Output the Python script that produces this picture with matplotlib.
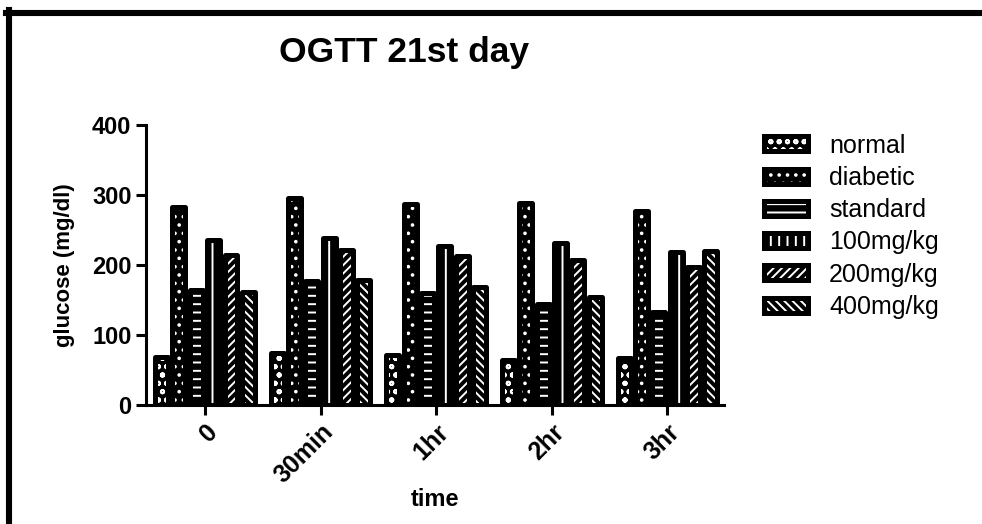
"""OGTT 21st day grouped bar chart."""

import matplotlib

matplotlib.use("Agg")
import matplotlib.pyplot as plt
import numpy as np
from matplotlib.legend_handler import HandlerTuple
from matplotlib.lines import Line2D

time_points = ["0", "30min", "1hr", "2hr", "3hr"]
groups = ["normal", "diabetic", "standard", "100mg/kg", "200mg/kg", "400mg/kg"]

normal = [68, 75, 72, 65, 67]
diabetic = [283, 296, 287, 289, 277]
standard = [164, 178, 160, 144, 133]
dose_100 = [236, 239, 228, 231, 219]
dose_200 = [215, 221, 213, 207, 198]
dose_400 = [162, 179, 169, 154, 220]

series = [normal, diabetic, standard, dose_100, dose_200, dose_400]
hatches = ["oo", "..", "--", "||", "////", "\\\\\\\\"]

plt.rcParams["font.family"] = ["Liberation Sans", "DejaVu Sans"]
plt.rcParams["hatch.linewidth"] = 1.4

figure = plt.figure(figsize=(9.82, 5.24), dpi=100)
axis = figure.add_axes([0.1487, 0.227, 0.5886, 0.534])

x = np.arange(len(time_points))
step = 0.15
width = 0.112
handles = []
for index, (values, hatch) in enumerate(zip(series, hatches)):
    offset = (index - 2.5) * step
    fill = axis.bar(
        x + offset, values, width, color="black", edgecolor="white",
        hatch=hatch, linewidth=0,
    )
    border = axis.bar(
        x + offset, values, width, facecolor="none", edgecolor="black",
        linewidth=3.6, joinstyle="round",
    )
    handles.append((fill, border))

axis.set_xlim(-0.51, 4.49)
axis.set_ylim(0, 400)
axis.set_yticks([0, 100, 200, 300, 400])
axis.set_xticks(x)
axis.set_xticklabels(time_points, rotation=45, ha="right", rotation_mode="anchor")
axis.tick_params(axis="y", labelsize=17, width=2.2, length=7, direction="out")
axis.tick_params(axis="x", labelsize=18, width=2.2, length=7, direction="out")
for label in axis.get_xticklabels() + axis.get_yticklabels():
    label.set_fontweight("bold")

for side in ["top", "right"]:
    axis.spines[side].set_visible(False)
for side in ["left", "bottom"]:
    axis.spines[side].set_linewidth(2.2)

axis.set_ylabel("glucose (mg/dl)", fontsize=16, fontweight="bold", labelpad=12)
axis.set_xlabel("time", fontsize=17, fontweight="bold", labelpad=0)
figure.text(0.411, 0.882, "OGTT 21st day", fontsize=25.5, fontweight="bold",
            ha="center", va="baseline")

figure.legend(
    handles, groups, loc="upper left", bbox_to_anchor=(0.768, 0.764),
    frameon=False, fontsize=18, handlelength=1.75, handleheight=0.55,
    handletextpad=0.85, labelspacing=0.33, borderaxespad=0,
    handler_map={tuple: HandlerTuple(ndivide=1)},
)

figure.add_artist(Line2D([0.006, 1.0], [0.975, 0.975], color="black",
                         linewidth=4.4, transform=figure.transFigure))
figure.add_artist(Line2D([0.009, 0.009], [0.0, 0.98], color="black",
                         linewidth=4.4, transform=figure.transFigure))

figure.savefig("out.png", dpi=100)
plt.close(figure)
